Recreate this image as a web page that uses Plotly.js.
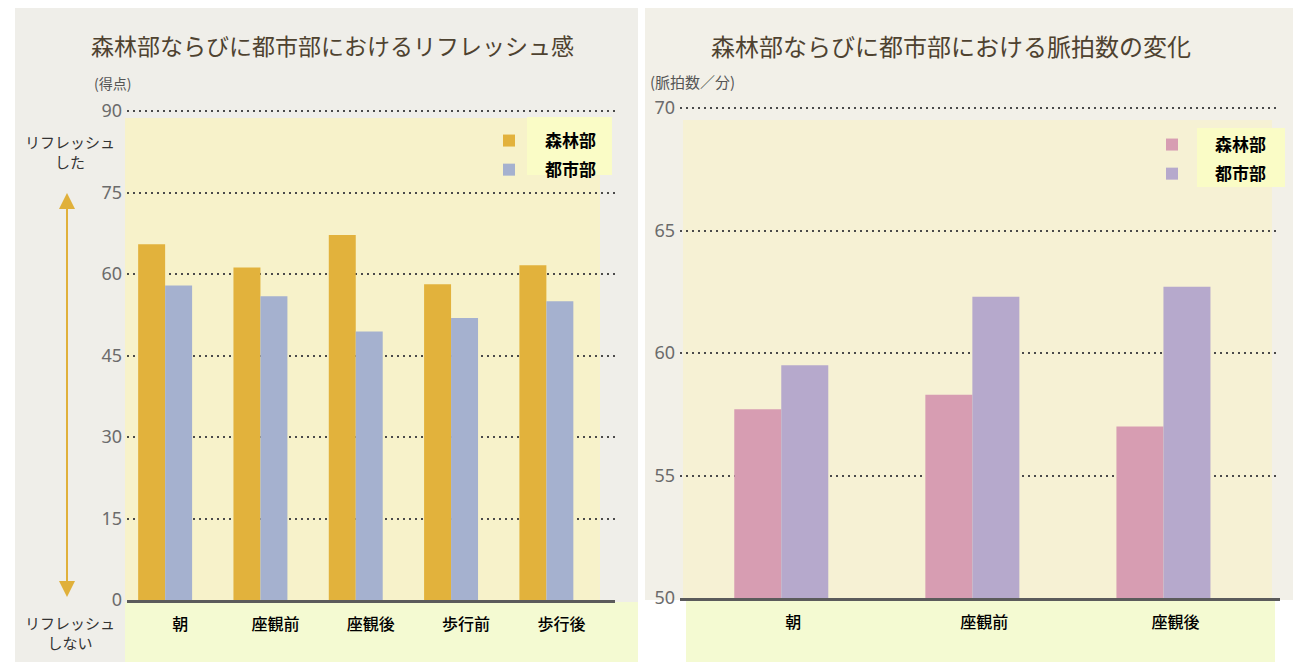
<!DOCTYPE html>
<html>
<head>
<meta charset="utf-8">
<script src="https://cdn.plot.ly/plotly-3.0.1.min.js"></script>
<style>html,body{margin:0;padding:0;background:#fff;}#chart{width:1293px;height:662px;}</style>
</head>
<body>
<div id="chart"></div>
<script>
// ---- data ----
const categoriesL = ['朝', '座観前', '座観後', '歩行前', '歩行後'];
const forestL = [65.5, 61.2, 67.2, 58.1, 61.6];
const cityL = [57.9, 55.9, 49.4, 51.9, 55.0];
const categoriesR = ['朝', '座観前', '座観後'];
const forestR = [57.7, 58.3, 57.0];
const cityR = [59.5, 62.3, 62.7];
const seriesNames = ['森林部', '都市部'];
const yTicksL = [0, 15, 30, 45, 60, 75, 90];
const yTicksR = [50, 55, 60, 65, 70];
const titleL = '森林部ならびに都市部におけるリフレッシュ感';
const titleR = '森林部ならびに都市部における脈拍数の変化';
const unitL = '(得点)';
const unitR = '(脈拍数／分)';

// ---- helpers (pixel -> paper) ----
const W = 1293, H = 662;
const px = v => v / W;
const py = v => 1 - v / H;
const rect = (x0, y0, x1, y1, color) => ({
  type: 'rect', xref: 'paper', yref: 'paper', layer: 'below',
  x0: px(x0), x1: px(x1), y0: py(y1), y1: py(y0),
  fillcolor: color, line: {width: 0}
});

const CJK = 'Noto Sans CJK JP';
const wL = 0.283, wR = 0.246;

const traces = [
  {type: 'bar', name: seriesNames[0], x: categoriesL, y: forestL, xaxis: 'x', yaxis: 'y',
   width: wL, offset: -wL, marker: {color: '#e2b23c'}, legend: 'legend', legendgroup: 'fL', hoverinfo: 'x+y'},
  {type: 'bar', name: seriesNames[1], x: categoriesL, y: cityL, xaxis: 'x', yaxis: 'y',
   width: wL, offset: 0, marker: {color: '#a5b1cf'}, legend: 'legend', legendgroup: 'cL', hoverinfo: 'x+y'},
  {type: 'bar', name: seriesNames[0], x: categoriesR, y: forestR, xaxis: 'x2', yaxis: 'y2',
   width: wR, offset: -wR, marker: {color: '#d79db2'}, legend: 'legend2', legendgroup: 'fR', hoverinfo: 'x+y'},
  {type: 'bar', name: seriesNames[1], x: categoriesR, y: cityR, xaxis: 'x2', yaxis: 'y2',
   width: wR, offset: 0, marker: {color: '#b6a9cc'}, legend: 'legend2', legendgroup: 'cR', hoverinfo: 'x+y'}
];

const yCommon = {
  tickmode: 'array', ticks: '', showgrid: true, gridcolor: '#4a4a4a', gridwidth: 2,
  griddash: '2px,4px', zeroline: false, showline: false,
  tickfont: {family: 'Noto Sans', size: 18, color: '#6b6b6b'}, ticklabelstandoff: 4
};
const xCommon = {
  type: 'category', ticks: '', showgrid: false, zeroline: false,
  showline: true, linecolor: '#5b5b5b', linewidth: 2.5,
  tickfont: {family: CJK, size: 16, color: '#000', weight: 500}, ticklabelstandoff: 8
};

// left: 0 at y=600, 5.433 px/unit ; right: 50 at y=598, 24.5 px/unit
const topL = 90.6, topR = 70.2;

const layout = {
  width: W, height: H,
  margin: {l: 0, r: 0, t: 0, b: 0},
  paper_bgcolor: '#ffffff', plot_bgcolor: 'rgba(0,0,0,0)',
  barmode: 'overlay', showlegend: true,
  xaxis: Object.assign({}, xCommon, {domain: [px(127), px(615)], range: [-0.4, 4.72], anchor: 'y', ticklabelshift: 15}),
  yaxis: Object.assign({}, yCommon, {domain: [1 - 600 / H, 1 - (600 - topL * 5.433) / H], range: [0, topL], tickvals: yTicksL, anchor: 'x'}),
  xaxis2: Object.assign({}, xCommon, {domain: [px(680), px(1280)], range: [-0.53, 2.61], anchor: 'y2', ticklabelshift: 12}),
  yaxis2: Object.assign({}, yCommon, {domain: [1 - 598 / H, 1 - (598 - (topR - 50) * 24.5) / H], range: [50, topR], tickvals: yTicksR, anchor: 'x2'}),
  legend: {x: px(473), y: py(123), xanchor: 'left', yanchor: 'top', bgcolor: 'rgba(0,0,0,0)',
    font: {family: CJK, size: 17, color: '#000', weight: 600}, itemwidth: 62, tracegroupgap: 4},
  legend2: {x: px(1129), y: py(127), xanchor: 'left', yanchor: 'top', bgcolor: 'rgba(0,0,0,0)',
    font: {family: CJK, size: 17, color: '#000', weight: 600}, itemwidth: 76, tracegroupgap: 4},
  shapes: [
    rect(15, 8, 638, 662, '#efeee9'),
    rect(645, 8, 1293, 600, '#f2f0e8'),
    rect(125, 118, 600, 600, '#f7f2ca'),
    rect(683, 120, 1272, 598, '#f6f1d4'),
    rect(125, 602, 638, 662, '#f4fad2'),
    rect(686, 600, 1275, 662, '#f4fad2'),
    rect(527, 117, 612, 175, '#fafcc6'),
    rect(1197, 128, 1285, 187, '#fafcc6')
  ],
  annotations: [
    {xref: 'paper', yref: 'paper', x: px(332), y: py(45), text: titleL, showarrow: false,
     font: {family: CJK, size: 23, color: '#4e4230'}, xanchor: 'center', yanchor: 'middle'},
    {xref: 'paper', yref: 'paper', x: px(951), y: py(45), text: titleR, showarrow: false,
     font: {family: CJK, size: 24, color: '#4e4230'}, xanchor: 'center', yanchor: 'middle'},
    {xref: 'paper', yref: 'paper', x: px(112), y: py(83), text: unitL, showarrow: false,
     font: {family: CJK, size: 14, color: '#555'}, xanchor: 'center', yanchor: 'middle'},
    {xref: 'paper', yref: 'paper', x: px(692), y: py(82), text: unitR, showarrow: false,
     font: {family: CJK, size: 15, color: '#555'}, xanchor: 'center', yanchor: 'middle'},
    {xref: 'paper', yref: 'paper', x: px(70), y: py(151), text: 'リフレッシュ<br>した', showarrow: false,
     font: {family: CJK, size: 15, color: '#333'}, xanchor: 'center', yanchor: 'middle'},
    {xref: 'paper', yref: 'paper', x: px(70), y: py(632), text: 'リフレッシュ<br>しない', showarrow: false,
     font: {family: CJK, size: 15, color: '#333'}, xanchor: 'center', yanchor: 'middle'},
    {xref: 'paper', yref: 'paper', x: px(67), y: py(193), text: '', showarrow: true,
     ax: 0, ay: 205, arrowhead: 2, arrowsize: 1.6, arrowwidth: 2, arrowcolor: '#e0b03a'},
    {xref: 'paper', yref: 'paper', x: px(67), y: py(597), text: '', showarrow: true,
     ax: 0, ay: -205, arrowhead: 2, arrowsize: 1.6, arrowwidth: 2, arrowcolor: '#e0b03a'}
  ]
};

Plotly.newPlot('chart', traces, layout, {displayModeBar: false, staticPlot: true});
</script>
</body>
</html>
